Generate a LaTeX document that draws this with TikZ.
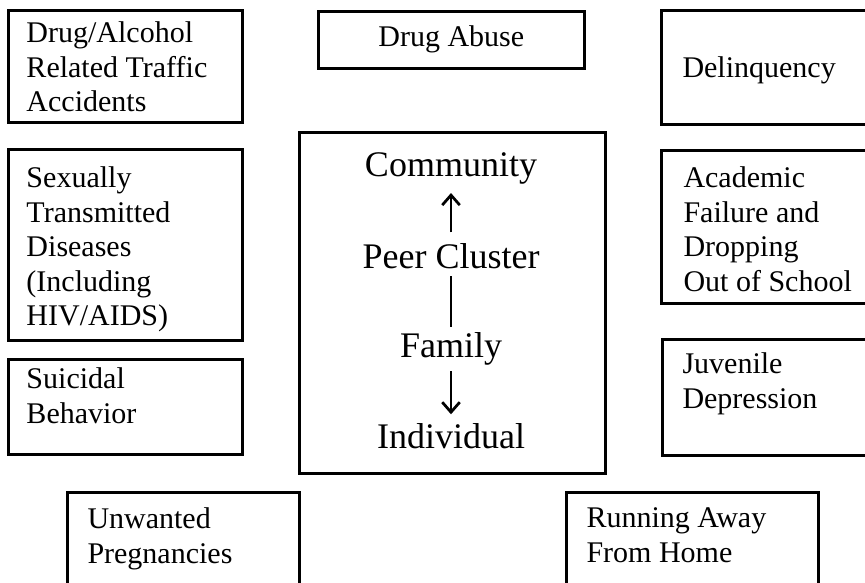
\documentclass[tikz,border=0pt]{standalone}
\usepackage{fontspec}
\setmainfont{Liberation Serif}
\usetikzlibrary{arrows.meta}

\begin{document}
\begin{tikzpicture}[
  x=0.4pt, y=-0.4pt,
  >={Straight Barb[length=4pt, width=7pt]},
  box/.style={draw, line width=1pt, anchor=north west, inner sep=0pt},
  boxsize/.style 2 args={minimum width=#1*0.4pt, minimum height=#2*0.4pt},
  txt/.style={anchor=north west, inner sep=0pt, align=left, font=\fontsize{12}{13.8}\selectfont},
  lvl/.style={anchor=base, inner sep=0pt, font=\fontsize{14.4}{17}\selectfont, text height=0.7em, text depth=0.22em},
  link/.style={line width=1.1pt}
]
\useasboundingbox (0,0) rectangle (865,582);
\clip (0,0) rectangle (865,582);

% outer boxes
\node[box, boxsize={234}{112}] (acc) at (7,9) {};
\node[box, boxsize={266}{57}, font=\fontsize{12}{13.8}\selectfont] (abuse) at (317,10) {Drug Abuse};
\node[box, boxsize={215}{114}] (delq) at (660,9) {};
\node[box, boxsize={234}{191}] (std) at (7,148) {};
\node[box, boxsize={215}{153}] (acad) at (660,149) {};
\node[box, boxsize={234}{95}] (suic) at (7,358) {};
\node[box, boxsize={215}{116}] (depr) at (661,338) {};
\node[box, boxsize={232}{120}] (preg) at (66,491) {};
\node[box, boxsize={252}{120}] (run) at (565,491) {};

% labels
\node[txt] (accT) at ([shift={(19,12.5)}]acc.north west) {Drug/Alcohol\\Related Traffic\\Accidents};
\node[txt, anchor=base west] (delqT) at (682,77) {Delinquency};
\node[txt] (stdT) at ([shift={(19,18.5)}]std.north west) {Sexually\\Transmitted\\Diseases\\(Including\\HIV/AIDS)};
\node[txt] (acadT) at ([shift={(23,17.5)}]acad.north west) {Academic\\Failure and\\Dropping\\Out of School};
\node[txt] (suicT) at ([shift={(19,9.5)}]suic.north west) {Suicidal\\Behavior};
\node[txt] (deprT) at ([shift={(21,14.5)}]depr.north west) {Juvenile\\Depression};
\node[txt] (pregT) at ([shift={(21,16.5)}]preg.north west) {Unwanted\\Pregnancies};
\node[txt] (runT) at ([shift={(21,16.5)}]run.north west) {Running Away\\From Home};

% centre
\node[box, boxsize={306}{341}] (ctr) at (298,131) {};
\node[lvl] (comm) at (451,176) {Community};
\node[lvl] (peer) at (451,268) {Peer Cluster};
\node[lvl] (fam) at (451,357) {Family};
\node[lvl] (ind) at (451,448) {Individual};

\draw[link, ->, shorten <=7.1pt, shorten >=4.4pt] (peer.north) -- (comm.south);
\draw[link, shorten <=0.8pt, shorten >=4.7pt] (peer.south) -- (fam.north);
\draw[link, ->, shorten <=3.2pt, shorten >=6.3pt] (fam.south) -- (ind.north);
\end{tikzpicture}
\end{document}
